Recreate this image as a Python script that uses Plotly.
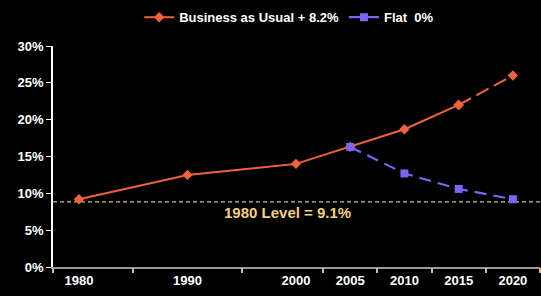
import plotly.graph_objects as go

years = [1980, 1990, 2000, 2005, 2010, 2015, 2020]
business = [9.2, 12.5, 14.0, 16.3, 18.7, 22.0, 26.0]
flat_years = [2005, 2010, 2015, 2020]
flat = [16.3, 12.7, 10.6, 9.2]
ref_level = 8.85
ref_label = "1980 Level = 9.1%"
tick_labels = ["1980", "1990", "2000", "2005", "2010", "2015", "2020"]
boundaries = [1977.6, 1985, 1995, 2002.5, 2007.5, 2012.5, 2017.5, 2022.5]
y_ticks = [0, 5, 10, 15, 20, 25, 30]

ORANGE = "#F2603C"
PURPLE = "#7E63F4"
TAN = "#D9BA7C"

fig = go.Figure()

# Business as usual: solid to 2015, dashed 2015-2020
fig.add_trace(go.Scatter(
    x=years[:6], y=business[:6], mode="lines+markers",
    name="Business as Usual + 8.2%",
    line=dict(color=ORANGE, width=2),
    marker=dict(symbol="diamond", size=8, color=ORANGE),
    showlegend=True))
fig.add_trace(go.Scatter(
    x=years[5:], y=business[5:], mode="lines+markers",
    line=dict(color=ORANGE, width=2, dash="14px,6px"),
    marker=dict(symbol="diamond", size=8, color=ORANGE),
    showlegend=False))
fig.add_trace(go.Scatter(
    x=flat_years, y=flat, mode="lines+markers",
    name="Flat  0%",
    line=dict(color=PURPLE, width=2.2, dash="12px,7px"),
    marker=dict(symbol="square", size=8, color=PURPLE),
    showlegend=True))

# tick marks at category boundaries
fig.add_trace(go.Scatter(x=[boundaries[0], boundaries[-1]], y=[None, None],
                         xaxis="x2", showlegend=False, hoverinfo="skip"))

fig.add_shape(type="line", xref="paper", x0=0, x1=1, yref="y",
              y0=ref_level, y1=ref_level,
              line=dict(color=TAN, width=1.3, dash="4px,3px"), layer="below")
fig.add_annotation(x=1999.2, y=ref_level, yref="y", xref="x", text=ref_label,
                   showarrow=False, yshift=-11,
                   font=dict(color="#F2CF7E", size=15, family="Arial", weight="bold"))

fig.update_layout(
    width=541, height=296,
    paper_bgcolor="black", plot_bgcolor="black",
    margin=dict(l=53, r=1, t=46, b=29),
    font=dict(family="Arial", color="white", size=13, weight="bold"),
    legend=dict(orientation="h", x=0.485, xanchor="center", y=1.13, yanchor="middle",
                font=dict(size=13, color="white", weight="bold"),
                bgcolor="rgba(0,0,0,0)", traceorder="normal"),
    xaxis=dict(range=[boundaries[0], boundaries[-1]], tickvals=years, ticktext=tick_labels,
               showgrid=False, zeroline=False, showline=True, linecolor="#9A9A9A",
               linewidth=2, ticks="", tickfont=dict(size=13, color="white", weight="bold")),
    xaxis2=dict(range=[boundaries[0], boundaries[-1]], overlaying="x", anchor="y",
                side="bottom", tickvals=boundaries, showticklabels=False,
                ticks="outside", ticklen=5, tickcolor=TAN, tickwidth=1.5,
                showgrid=False, zeroline=False, showline=False),
    yaxis=dict(range=[0, 30], tickvals=y_ticks, ticktext=[f"{v}%" for v in y_ticks],
               showgrid=False, zeroline=False, showline=True, linecolor="white",
               linewidth=1.5, ticks="outside", ticklen=5, tickcolor="white",
               tickfont=dict(size=13, color="white", weight="bold")),
)

fig.write_html("out.html", config={"displayModeBar": False},
               post_script="document.body.style.margin='0';document.body.style.overflow='hidden';")
